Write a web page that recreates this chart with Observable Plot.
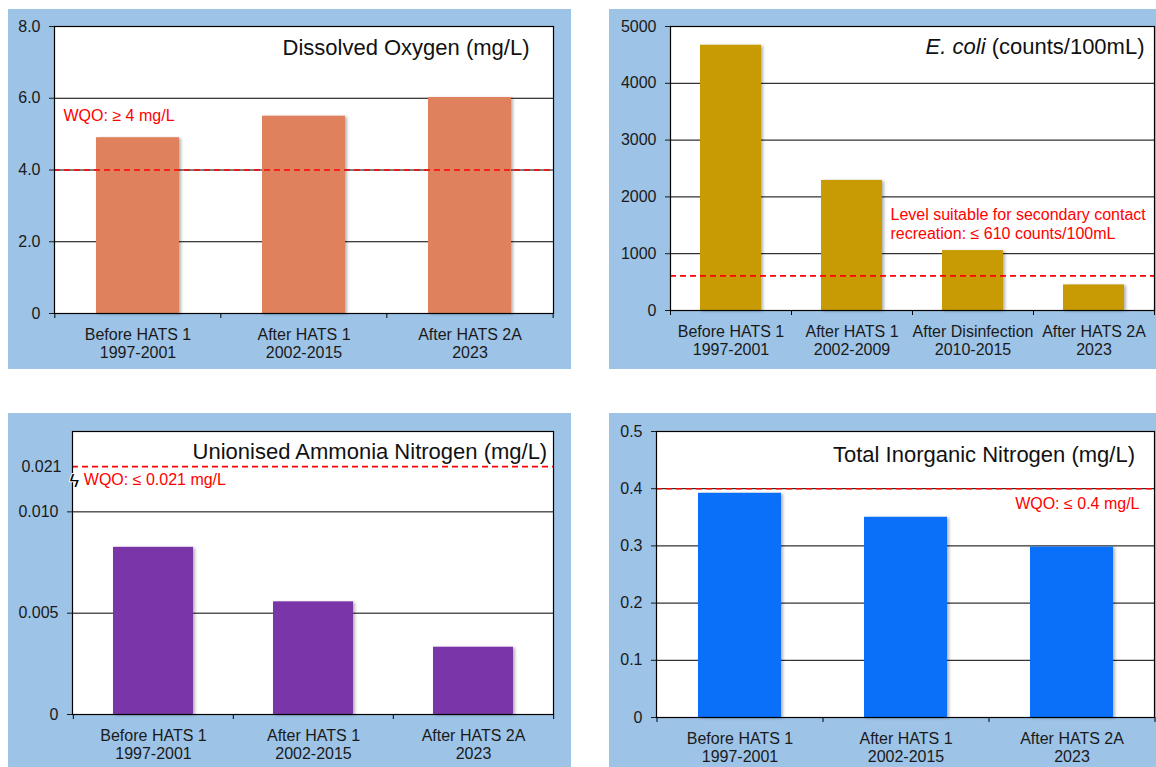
<!DOCTYPE html>
<html><head><meta charset="utf-8">
<script src="https://cdn.jsdelivr.net/npm/d3@7"></script>
<script src="https://cdn.jsdelivr.net/npm/@observablehq/plot@0.6"></script>
<style>
html,body{margin:0;padding:0;background:#fff;width:1156px;height:767px;overflow:hidden;}
.panel{position:absolute;background:#9DC3E6;overflow:hidden;}
.panel svg{display:block;overflow:visible;}
</style></head><body>
<div id="p1" class="panel" style="left:8px;top:9px;width:563px;height:360px"></div>
<div id="p2" class="panel" style="left:609px;top:9px;width:547px;height:360px"></div>
<div id="p3" class="panel" style="left:8px;top:413px;width:563px;height:354px"></div>
<div id="p4" class="panel" style="left:609px;top:413px;width:547px;height:354px"></div>
<script>
// ---- Data ----
const doCategories = ["Before HATS 1", "After HATS 1", "After HATS 2A"];
const doPeriods = ["1997-2001", "2002-2015", "2023"];
const doValues = [4.9, 5.5, 6.02];
const doTicks = [0, 2, 4, 6, 8];
const doTickLabels = ["0", "2.0", "4.0", "6.0", "8.0"];
const doWQO = 4;
const doTitle = "Dissolved Oxygen (mg/L)";
const doNote = "WQO: \u2265 4 mg/L";

const ecoliCategories = ["Before HATS 1", "After HATS 1", "After Disinfection", "After HATS 2A"];
const ecoliPeriods = ["1997-2001", "2002-2009", "2010-2015", "2023"];
const ecoliValues = [4670, 2290, 1055, 450];
const ecoliTicks = [0, 1000, 2000, 3000, 4000, 5000];
const ecoliTickLabels = ["0", "1000", "2000", "3000", "4000", "5000"];
const ecoliLevel = 610;
const ecoliTitle = "E. coli (counts/100mL)";
const ecoliNote = "Level suitable for secondary contact\nrecreation: \u2264 610 counts/100mL";

const ammCategories = ["Before HATS 1", "After HATS 1", "After HATS 2A"];
const ammPeriods = ["1997-2001", "2002-2015", "2023"];
const ammValues = [0.00825, 0.00556, 0.00332];
const ammTicks = [0, 0.005, 0.010];
const ammTickLabels = ["0", "0.005", "0.010"];
const ammBreakTicks = [0.021];
const ammBreakLabels = ["0.021"];
const ammBreakAt = 0.0175;
const ammWQO = 0.021;
const ammDomain = [0, 0.010, 0.021, 0.029];   // broken axis segments
const ammTitle = "Unionised Ammonia Nitrogen (mg/L)";
const ammNote = "WQO: \u2264 0.021 mg/L";

const tinCategories = ["Before HATS 1", "After HATS 1", "After HATS 2A"];
const tinPeriods = ["1997-2001", "2002-2015", "2023"];
const tinValues = [0.392, 0.35, 0.298];
const tinTicks = [0, 0.1, 0.2, 0.3, 0.4, 0.5];
const tinTickLabels = ["0", "0.1", "0.2", "0.3", "0.4", "0.5"];
const tinWQO = 0.4;
const tinTitle = "Total Inorganic Nitrogen (mg/L)";
const tinNote = "WQO: \u2264 0.4 mg/L";

const FONT = "'Liberation Sans', Arial, Helvetica, sans-serif";

function yAxis(ticks, labels, tf, size, pad) {
  const t = ticks.map(tf);
  return Plot.axisY({ticks: t, tickFormat: d => labels[t.indexOf(d)], tickSize: size, tickPadding: pad, fontSize: 16, anchor: "left", label: null});
}

function panel(cfg) {
  const el = document.getElementById(cfg.id);
  const width = el.clientWidth, height = el.clientHeight;
  const [mt, mr, mb, ml] = cfg.margin;
  const tf = cfg.tf || (d => d);
  const plotW = width - ml - mr, plotH = height - mt - mb;
  const step = plotW / cfg.cats.length;
  const data = cfg.cats.map((c, i) => ({cat: c, period: cfg.periods[i], value: cfg.values[i]}));
  const marks = [
    Plot.frame({fill: "white", stroke: "none"}),
    Plot.ruleY(cfg.grid, {stroke: "#000", strokeWidth: 1}),
    Plot.barY(data, {x: "cat", y: "value", fill: cfg.color}),
    Plot.ruleY([0], {stroke: "#000", strokeWidth: 1.2}),
    Plot.ruleY([cfg.threshold], {stroke: "#FF0000", strokeDasharray: "6,4", strokeWidth: 1.6}),
    Plot.frame({stroke: "#000", strokeWidth: 1.2}),
    yAxis(cfg.ticks, cfg.tickLabels, tf, 5, 9),
    Plot.tickX(cfg.cats, {x: d => d, dx: -step / 2, insetTop: plotH, insetBottom: -5, stroke: "#000"}),
    Plot.tickX(cfg.cats.slice(-1), {x: d => d, dx: step / 2, insetTop: plotH, insetBottom: -5, stroke: "#000"}),
    Plot.text(data, {x: "cat", text: d => d.cat + "\n" + d.period, frameAnchor: "bottom", lineAnchor: "top", dy: 13.5, lineHeight: 1.15, fontSize: 16, fill: "#1a1a1a"}),
    Plot.text([cfg.title], {text: d => d, frameAnchor: "top-right", textAnchor: "end", lineAnchor: "middle", dx: cfg.titlePos[0], dy: cfg.titlePos[1], fontSize: 22, fill: "#111"}),
    Plot.text([cfg.note], {text: d => d, frameAnchor: cfg.noteAnchor, textAnchor: cfg.noteTextAnchor, lineAnchor: "middle", dx: cfg.notePos[0], dy: cfg.notePos[1], fontSize: 16, lineHeight: 1.2, fill: "#FF0000"}),
    ...(cfg.extra || [])
  ];
  const chart = Plot.plot({
    width, height,
    marginTop: mt, marginRight: mr, marginBottom: mb, marginLeft: ml,
    style: {background: "transparent", fontFamily: FONT, fontSize: "16px", color: "#1a1a1a", overflow: "visible"},
    x: {domain: cfg.cats, paddingInner: 0.5, paddingOuter: 0.25, align: 0.5, axis: null},
    y: {...cfg.y, axis: null},
    marks
  });
  chart.querySelectorAll('g[aria-label="bar"]').forEach(g => g.style.filter = "drop-shadow(2px 1px 1.5px rgba(0,0,0,0.3))");
  chart.querySelectorAll("text").forEach(t => {
    if (t.textContent === "E. coli (counts/100mL)") {
      t.innerHTML = '<tspan font-style="italic">E. coli</tspan> (counts/100mL)';
    }
  });
  el.appendChild(chart);
}

panel({
  id: "p1", margin: [17, 18, 56, 46],
  cats: doCategories, periods: doPeriods, values: doValues, color: "#E0815E",
  y: {domain: [0, 8]}, ticks: doTicks, tickLabels: doTickLabels, grid: [2, 4, 6, 8],
  threshold: doWQO, title: doTitle, titlePos: [-24, 21.7],
  note: doNote, noteAnchor: "top-left", noteTextAnchor: "start", notePos: [9, 88.7]
});

panel({
  id: "p2", margin: [17, 2, 59, 61],
  cats: ecoliCategories, periods: ecoliPeriods, values: ecoliValues, color: "#C89A04",
  y: {domain: [0, 5000]}, ticks: ecoliTicks, tickLabels: ecoliTickLabels, grid: [1000, 2000, 3000, 4000, 5000],
  threshold: ecoliLevel, title: ecoliTitle, titlePos: [-10, 20.4],
  note: ecoliNote, noteAnchor: "top-left", noteTextAnchor: "start", notePos: [220, 196.7]
});

// broken axis: piecewise transform of values into a 0..1 display coordinate
const ammBroken = d3.scaleLinear().domain(ammDomain).range([0, 0.716, 0.876, 1]);
panel({
  id: "p3", margin: [18, 18, 53, 64],
  cats: ammCategories, periods: ammPeriods, values: ammValues, color: "#7A36A8",
  y: {transform: d => ammBroken(d), nice: false, zero: true}, tf: d => ammBroken(d),
  ticks: ammTicks, tickLabels: ammTickLabels, grid: [0.005, 0.010],
  threshold: ammWQO, title: ammTitle, titlePos: [-6.3, 20.7],
  note: ammNote, noteAnchor: "top-left", noteTextAnchor: "start", notePos: [11.3, 47.7],
  extra: [
    Plot.ruleY([ammDomain[ammDomain.length - 1]], {strokeOpacity: 0}),
    yAxis(ammBreakTicks, ammBreakLabels, d => ammBroken(d), 0, 11),
    Plot.text([ammBreakAt], {y: d => d, text: () => "\u03DF", frameAnchor: "left", dx: -3, fontSize: 18, fill: "#000", stroke: "white", strokeWidth: 2, paintOrder: "stroke"})
  ]
});

panel({
  id: "p4", margin: [18, 2, 50, 47],
  cats: tinCategories, periods: tinPeriods, values: tinValues, color: "#0A6FF9",
  y: {domain: [0, 0.5]}, ticks: tinTicks, tickLabels: tinTickLabels, grid: [0.1, 0.2, 0.3, 0.4, 0.5],
  threshold: tinWQO, title: tinTitle, titlePos: [-19.5, 23.3],
  note: tinNote, noteAnchor: "top-right", noteTextAnchor: "end", notePos: [-15, 71]
});
</script>
</body></html>
